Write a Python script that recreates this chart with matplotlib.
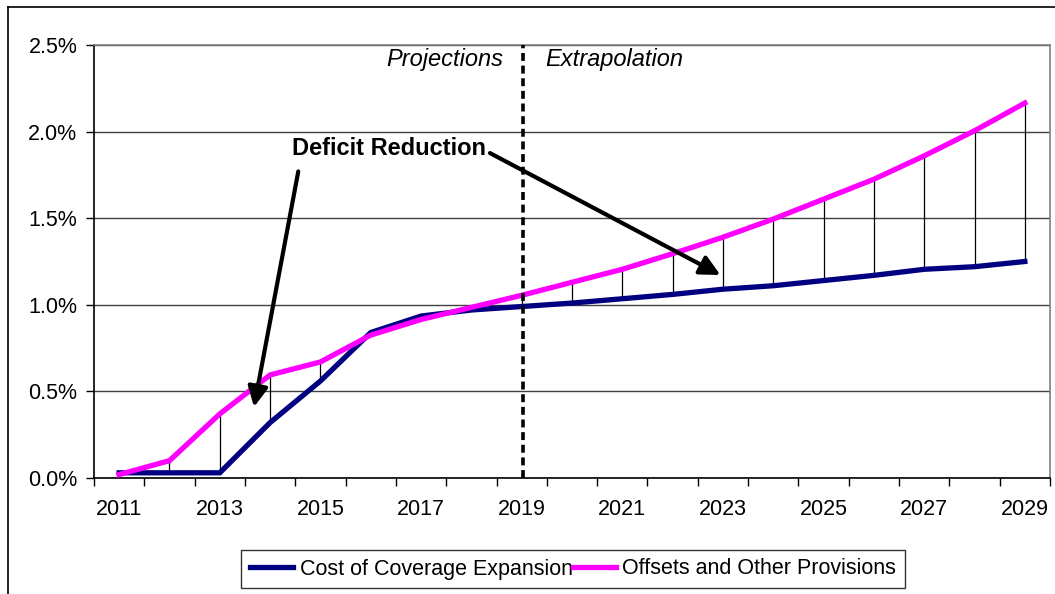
import matplotlib
matplotlib.use("Agg")
import matplotlib.pyplot as plt
from matplotlib.lines import Line2D
from matplotlib.ticker import FixedLocator, FuncFormatter

years = list(range(2011, 2030))
coverage = [0.03, 0.03, 0.03, 0.32, 0.56, 0.84, 0.935, 0.97, 0.99, 1.01,
            1.035, 1.06, 1.09, 1.11, 1.14, 1.17, 1.205, 1.22, 1.25]
offsets = [0.02, 0.10, 0.37, 0.595, 0.67, 0.825, 0.915, 0.985, 1.055, 1.13,
           1.205, 1.295, 1.39, 1.495, 1.61, 1.725, 1.86, 2.005, 2.165]
series_names = ["Cost of Coverage Expansion", "Offsets and Other Provisions"]
split_year = 2019

plt.rcParams['font.family'] = ['Liberation Sans', 'DejaVu Sans']

fig = plt.figure(figsize=(10.55, 5.94), dpi=100)
ax = fig.add_axes([94/1055, 1-478/594, (1050-94)/1055, (478-45)/594])

x = list(range(len(years)))

# high-low lines
lows = [min(a, b) for a, b in zip(coverage, offsets)]
highs = [max(a, b) for a, b in zip(coverage, offsets)]
ax.vlines(x, lows, highs, color='black', lw=0.9, zorder=2)

ax.plot(x, coverage, color='#000080', lw=3.8, label=series_names[0], zorder=3,
        solid_joinstyle='miter')
ax.plot(x, offsets, color='#FF00FF', lw=3.8, label=series_names[1], zorder=4,
        solid_joinstyle='miter')

ax.set_xlim(-0.5, len(years) - 0.5)
ax.set_ylim(0, 2.5)

# y axis
ax.set_yticks([0, 0.5, 1.0, 1.5, 2.0, 2.5])
ax.yaxis.set_major_formatter(FuncFormatter(lambda v, p: f"{v:.1f}%"))
ax.grid(axis='y', color='#404040', lw=1.0, zorder=0)
ax.tick_params(axis='y', direction='out', length=6, width=1, labelsize=15.5, pad=6)

# x axis: labels at category centres, ticks at boundaries
ax.set_xticks(x[::2])
ax.set_xticklabels([str(y) for y in years[::2]])
ax.xaxis.set_minor_locator(FixedLocator([i - 0.5 for i in range(len(years) + 1)]))
ax.tick_params(axis='x', which='major', length=0, labelsize=15.5, pad=15)
ax.tick_params(axis='x', which='minor', direction='out', length=6, width=1)

for s in ['left', 'bottom']:
    ax.spines[s].set_color('black')
    ax.spines[s].set_linewidth(1.2)
for s in ['top', 'right']:
    ax.spines[s].set_color('#808080')
    ax.spines[s].set_linewidth(1.2)

# split line
sx = years.index(split_year)
ax.axvline(sx + 0.03, color='black', lw=2.6, ls=(0, (2.2, 1.3)), zorder=5)

ax.text(7.63, 2.415, "Projections", style='italic', fontsize=17, ha='right', va='center')
ax.text(8.47, 2.415, "Extrapolation", style='italic', fontsize=17, ha='left', va='center')

ax.text(3.44, 1.905, "Deficit Reduction", fontweight='bold', fontsize=17,
        ha='left', va='center', zorder=6)
arrow = dict(arrowstyle='-|>', color='black', lw=3, mutation_scale=30,
             shrinkA=0, shrinkB=0)
ax.annotate("", xy=(2.68, 0.41), xytext=(3.56, 1.77), arrowprops=arrow, zorder=6)
ax.annotate("", xy=(11.95, 1.172), xytext=(7.37, 1.876), arrowprops=arrow, zorder=6)

leg = fig.legend(loc='center', bbox_to_anchor=(573/1055, 1-569/594), ncol=2,
                 fontsize=15.5, frameon=True, fancybox=False, edgecolor='black',
                 handlelength=2.0, handletextpad=0.3, columnspacing=0.0,
                 borderpad=0.4)
leg.get_frame().set_linewidth(1.0)

# outer chart border
fig.add_artist(Line2D([8/1055, 8/1055], [0, 1-7/594], color='black', lw=1.2,
                      transform=fig.transFigure))
fig.add_artist(Line2D([8/1055, 1], [1-7/594, 1-7/594], color='black', lw=1.2,
                      transform=fig.transFigure))

fig.savefig("out.png", dpi=100)
